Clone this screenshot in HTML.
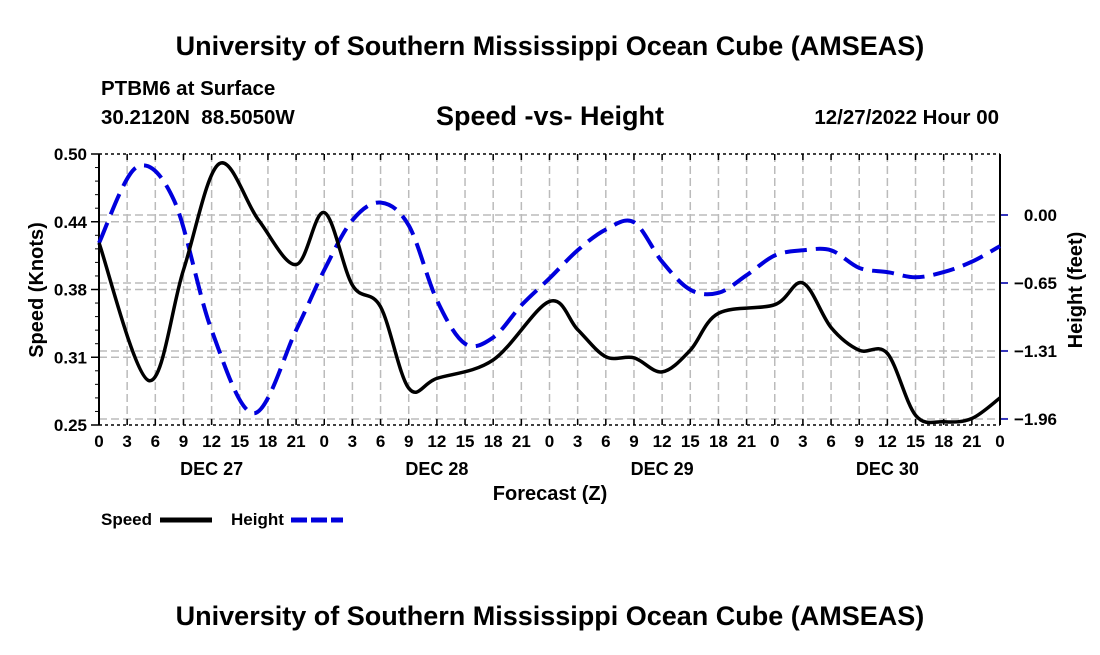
<!DOCTYPE html>
<html><head><meta charset="utf-8"><style>
body{margin:0;background:#fff;font-family:"Liberation Sans",sans-serif;}
svg text{font-family:"Liberation Sans",sans-serif;font-weight:bold;}
</style></head><body>
<svg id="c" width="1100" height="650" viewBox="0 0 1100 650">
<text x="550" y="55" text-anchor="middle" font-size="27">University of Southern Mississippi Ocean Cube (AMSEAS)</text>
<text x="101" y="95" font-size="20.5">PTBM6 at Surface</text>
<text x="101" y="124" font-size="20.5">30.2120N&#160;&#160;88.5050W</text>
<text x="550" y="125" text-anchor="middle" font-size="27">Speed -vs- Height</text>
<text x="999" y="124" text-anchor="end" font-size="20.5">12/27/2022 Hour 00</text>
<g id="grid"></g><g id="axes"></g><g id="series"></g>
<text transform="translate(43,290) rotate(-90)" text-anchor="middle" font-size="20">Speed (Knots)</text>
<text transform="translate(1082,290) rotate(-90)" text-anchor="middle" font-size="20">Height (feet)</text>
<text x="550" y="500" text-anchor="middle" font-size="20">Forecast (Z)</text>
<g>
<text x="101" y="525" font-size="17">Speed</text>
<line x1="160" y1="520" x2="212" y2="520" stroke="#000" stroke-width="5"/>
<text x="231" y="525" font-size="17">Height</text>
<line x1="291" y1="520" x2="343" y2="520" stroke="#0000dd" stroke-width="5" stroke-dasharray="16,4"/>
</g>
<text x="550" y="625" text-anchor="middle" font-size="27">University of Southern Mississippi Ocean Cube (AMSEAS)</text>
</svg>
<script>
const hoursSpeed=[0,5.3,9,12.8,17,21,24,27,30,33,36,42,48,51,54,57,60,63,66,72,75,78,81,84,87,90,93,96];
const speedValues=[0.418,0.291,0.393,0.491,0.439,0.398,0.446,0.379,0.359,0.284,0.293,0.310,0.364,0.338,0.313,0.312,0.299,0.319,0.353,0.361,0.381,0.340,0.319,0.316,0.259,0.253,0.256,0.275];
const hoursHeight=[0,4,8,12,16.5,21,24,27,30,33,36,39,42,45,48,51,54,57,60,63,66,69,72,75,78,81,84,87,90,93,96];
const heightValues=[-0.27,0.46,0.14,-1.11,-1.91,-1.11,-0.53,-0.05,0.12,-0.10,-0.82,-1.24,-1.18,-0.87,-0.61,-0.34,-0.14,-0.07,-0.45,-0.72,-0.75,-0.58,-0.39,-0.34,-0.34,-0.51,-0.55,-0.60,-0.55,-0.45,-0.30];
const leftTicks=[0.25,0.3125,0.375,0.4375,0.5];
const leftTickLabels=["0.25","0.31","0.38","0.44","0.50"];
const rightTicks=[0,-0.655,-1.31,-1.965];
const rightTickLabels=["0.00","\u22120.65","\u22121.31","\u22121.96"];
const dayLabels=["DEC 27","DEC 28","DEC 29","DEC 30"];

const L=99,R=1000,T=154,B=425;
const xS=h=>L+(R-L)*h/96;
const yL=v=>B-(v-0.25)/0.25*(B-T);
const yR=v=>215-v*103.8;
const NS='http://www.w3.org/2000/svg';
function mk(tag,attrs,parent){const e=document.createElementNS(NS,tag);for(const k in attrs)e.setAttribute(k,attrs[k]);parent.appendChild(e);return e;}
const grid=document.getElementById('grid'),axes=document.getElementById('axes'),ser=document.getElementById('series');
for(let h=0;h<=96;h+=3){
  const x=xS(h);
  if(h>0&&h<96){const g=mk('line',{x1:x,y1:T,x2:x,y2:B,stroke:'#bbb','stroke-width':1.5,'stroke-dasharray':'8,4'},grid);
  
  }
  mk('line',{x1:x,y1:B,x2:x,y2:B-6,stroke:'#000','stroke-width':1.5},axes);
  mk('line',{x1:x,y1:T,x2:x,y2:T+6,stroke:'#000','stroke-width':1.5},axes);
  const t=mk('text',{x:x,y:B+22,'text-anchor':'middle','font-size':17},axes);t.textContent=String(h%24);
  
  
}
dayLabels.forEach((d,i)=>{const t=mk('text',{x:xS(12+24*i),y:B+50,'text-anchor':'middle','font-size':18},axes);t.textContent=d;
  
  });
leftTicks.forEach((v,i)=>{const y=yL(v);
  if(i>0&&i<leftTicks.length-1){const g=mk('line',{x1:L,y1:y,x2:R,y2:y,stroke:'#bbb','stroke-width':1.5,'stroke-dasharray':'8,4'},grid);
  
  }
  mk('line',{x1:L-8,y1:y,x2:L,y2:y,stroke:'#000','stroke-width':1.5},axes);
  const t=mk('text',{x:L-12,y:y+6,'text-anchor':'end','font-size':17},axes);t.textContent=leftTickLabels[i];
  
  });
for(let v=0.25;v<0.5;v+=0.0125){const y=yL(v);mk('line',{x1:L-4,y1:y,x2:L,y2:y,stroke:'#000','stroke-width':1},axes);}
rightTicks.forEach((v,i)=>{const y=yR(v);
  const g=mk('line',{x1:L,y1:y,x2:R,y2:y,stroke:'#bbb','stroke-width':1.5,'stroke-dasharray':'8,4'},grid);
  
  
  mk('line',{x1:R,y1:y,x2:R+8,y2:y,stroke:'#3333bb','stroke-width':2},axes);
  const t=mk('text',{x:R+57,y:y+6,'text-anchor':'end','font-size':17},axes);t.textContent=rightTickLabels[i];
  
  });
mk('line',{x1:L,y1:T,x2:R,y2:T,stroke:'#000','stroke-width':1.5,'stroke-dasharray':'3,3'},axes);
mk('line',{x1:L,y1:B,x2:R,y2:B,stroke:'#000','stroke-width':1.5,'stroke-dasharray':'3,3'},axes);
mk('line',{x1:L,y1:T,x2:L,y2:B,stroke:'#000','stroke-width':2},axes);
mk('line',{x1:R,y1:T,x2:R,y2:B,stroke:'#000','stroke-width':2},axes);
function path(xs,ys){const p=xs.map((h,i)=>[xS(h),ys[i]]);let d='M'+p[0][0]+','+p[0][1];
  for(let i=0;i<p.length-1;i++){const p0=p[Math.max(0,i-1)],p1=p[i],p2=p[i+1],p3=p[Math.min(p.length-1,i+2)];
    const c1=[p1[0]+(p2[0]-p0[0])/6,p1[1]+(p2[1]-p0[1])/6],c2=[p2[0]-(p3[0]-p1[0])/6,p2[1]-(p3[1]-p1[1])/6];
    d+=` C${c1[0]},${c1[1]} ${c2[0]},${c2[1]} ${p2[0]},${p2[1]}`;}return d;}
const hp=mk('path',{d:path(hoursHeight,heightValues.map(yR)),fill:'none',stroke:'#0000dd','stroke-width':4,'stroke-dasharray':'22,9'},ser);


const sp=mk('path',{d:path(hoursSpeed,speedValues.map(yL)),fill:'none',stroke:'#000','stroke-width':3.5},ser);


</script>
</body></html>
